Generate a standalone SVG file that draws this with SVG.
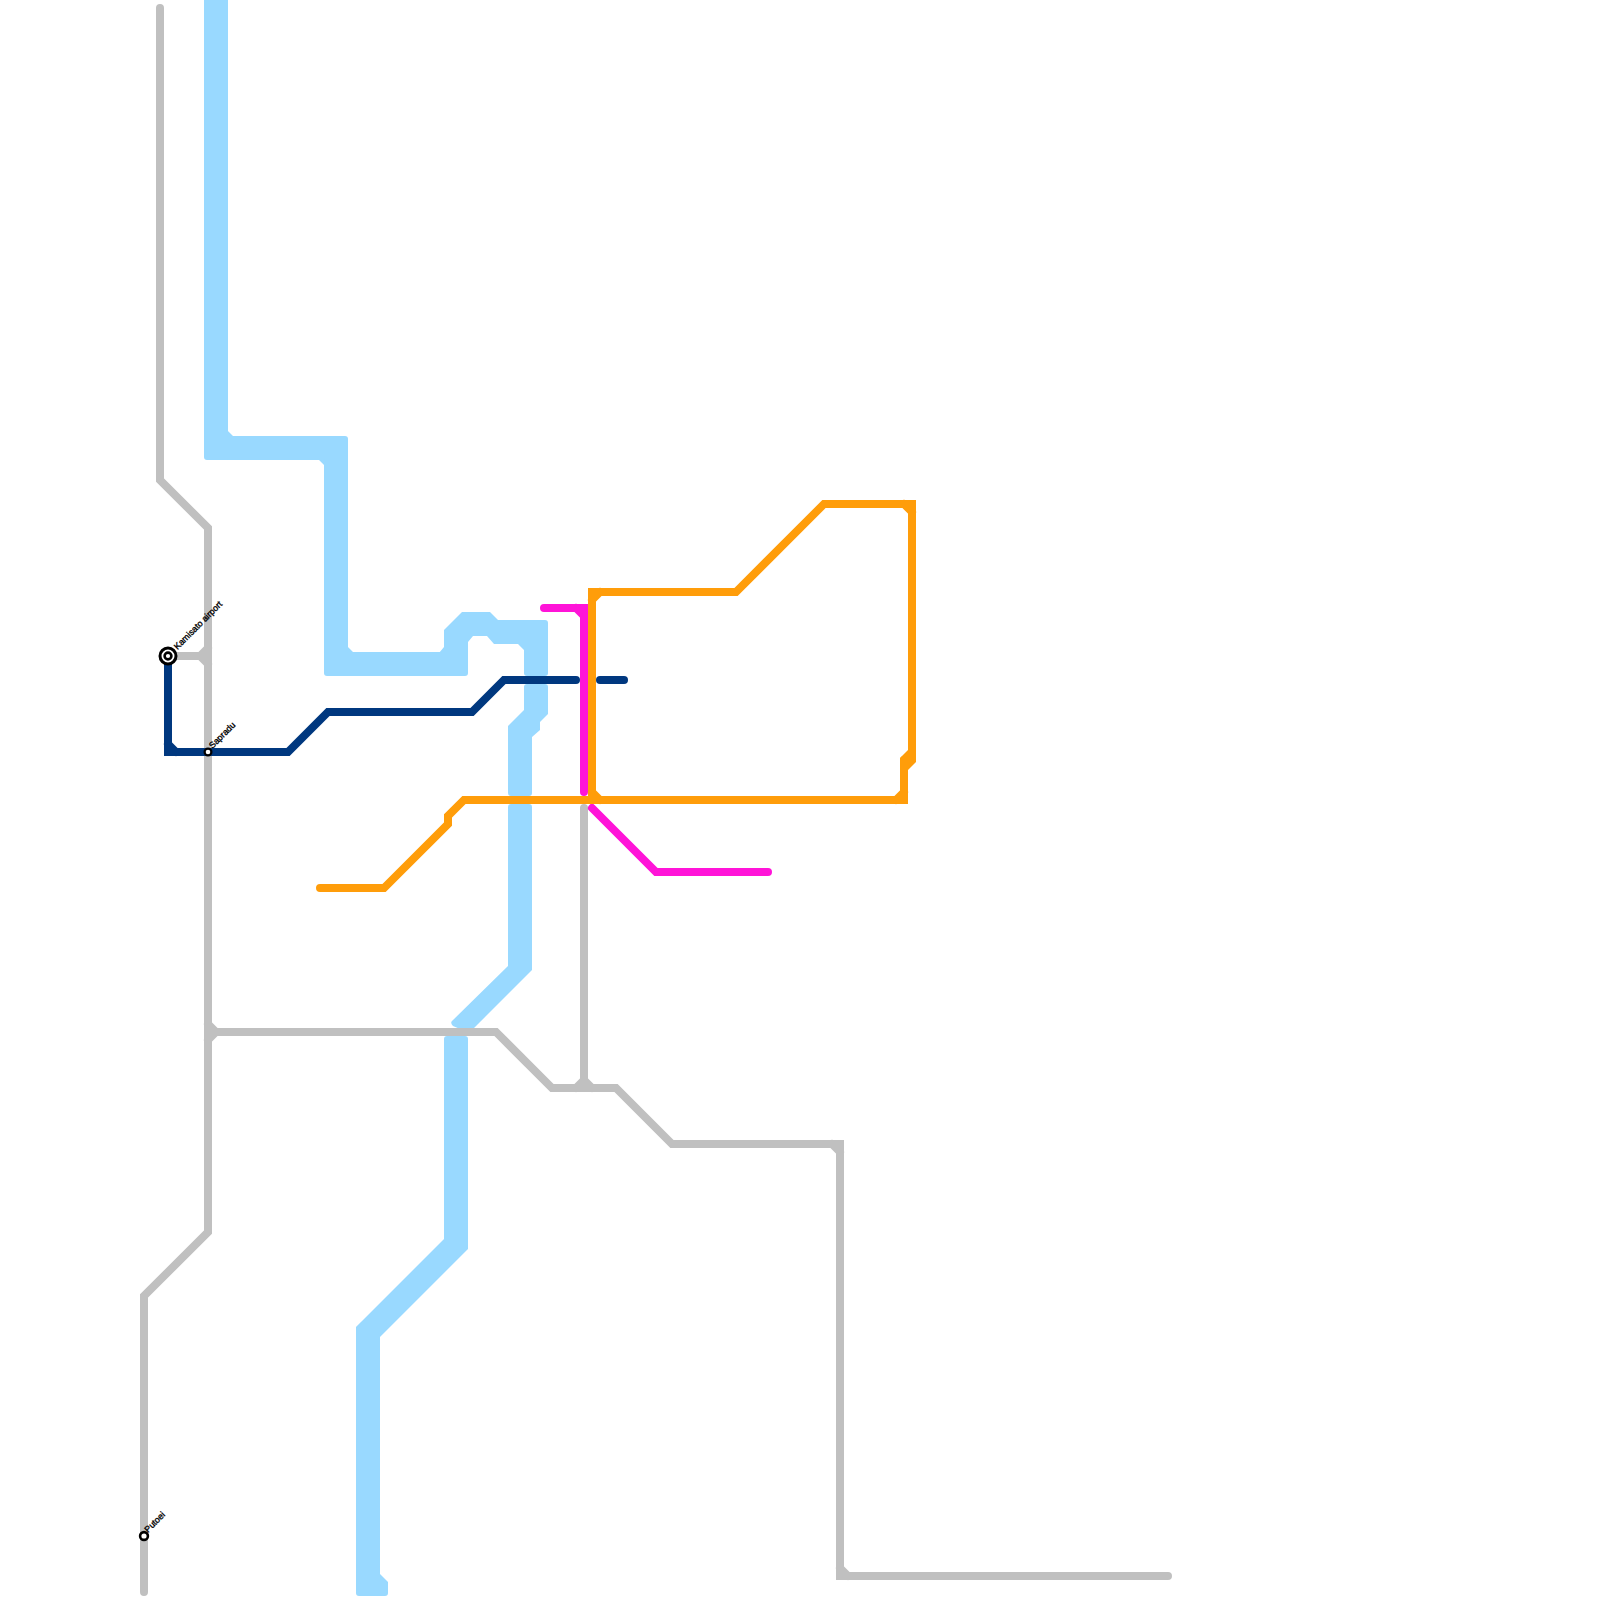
<svg xmlns="http://www.w3.org/2000/svg" width="1600" height="1600" viewBox="0 0 1600 1600">
<style>
.l{fill:none;stroke-linejoin:miter;stroke-miterlimit:4}
.t{stroke-width:8;stroke-linecap:round}
.w{stroke-width:24;stroke-linecap:butt;stroke:#99d9ff}
.bf{fill:#99d9ff;stroke:none}
.grey{stroke:#c0c0c0}
.orange{stroke:#ff9d0a}
.orf{fill:#ff9d0a;stroke:none}
.magenta{stroke:#ff14d8}
.navy{stroke:#00387f}
.st{fill:#fff;stroke:#000}
.lb{font-family:"Liberation Sans",Arial,sans-serif;font-size:8.8px;fill:#000;stroke:#000;stroke-width:.35px}
</style>
<defs><rect id="cap" x="-12" y="-12" width="24" height="24" rx="3" fill="#99d9ff"/></defs>
<rect width="1600" height="1600" fill="#fff"/>
<g id="connectors">
<path class="l w" d="M216 -5V448M216 448H336M336 448V664M336 664H456M216 436L228 448M324 448L336 460M336 652L348 664"/>
<use href="#cap" x="216" y="448"/>
<use href="#cap" x="336" y="448"/>
<use href="#cap" x="336" y="664"/>
<use href="#cap" x="456" y="664"/>
<use href="#cap" x="536" y="664"/>
<path class="bf" d="M439 653L444 647V630L462 612H490L498 620H545Q548 620 548 623V664H524V650L518 644H494L487 636H473L468 642V660H439Z"/>
<path class="bf" d="M527 684H545Q548 684 548 687V714L540 722V730L532 737V793Q532 796 529 796H511Q508 796 508 793V726L524 710V687Q524 684 527 684Z"/>
<path class="bf" d="M511 804H529Q532 804 532 807V970L473 1029H460L453 1026Q450 1023 452 1021L508 966V807Q508 804 511 804Z"/>
<path class="l w" d="M456 1048V1244L368 1332V1584"/>
<use href="#cap" x="456" y="1048"/>
<use href="#cap" x="368" y="1584"/>
<path class="bf" d="M378 1572L388 1582V1593Q388 1596 385 1596H376V1572Z"/>
<path class="l t grey" d="M160 8V480L208 528V1232L144 1296V1592"/>
<path class="l t grey" d="M168 656H208M200 656L208 648M200 656L208 664"/>
<path class="l t grey" d="M208 1032H496L552 1088H616L672 1144H840V1576H1168M208 1024L216 1032M208 1040L216 1032M832 1144L840 1152M840 1568L848 1576"/>
<path class="l t grey" d="M584 808V1088M576 1088L584 1080M592 1088L584 1080"/>
<path class="l t magenta" d="M544 608H584V792M576 608L584 616"/>
<path class="l t magenta" d="M592 808L656 872H768"/>
<path class="l t orange" d="M320 888H384L448 824V816L464 800H904V760M912 752V504H824L736 592H592V800M592 792L600 800M592 600L600 592M896 800L904 792M904 504L912 512"/>
<polygon class="orf" points="900,758 908,750 916,750 916,762 908,770 900,770"/>
<path class="l t navy" d="M168 656V752H288L328 712H472L504 680H576M168 744L176 752"/>
<path class="l t navy" d="M600 680H624"/>
</g>
<g id="station-kamisato">
<circle class="st" cx="168" cy="656" r="8" stroke-width="3"/>
<circle class="st" cx="168" cy="656" r="3.4" stroke-width="2.6"/>
<text class="lb" transform="translate(177.5 650) rotate(-45)">Kamisato airport</text>
</g>
<g id="station-sapradu">
<circle class="st" cx="208" cy="752" r="3.4" stroke-width="2.2"/>
<text class="lb" transform="translate(212.5 749) rotate(-45)">Sapradu</text>
</g>
<g id="station-putoei">
<circle class="st" cx="144" cy="1536" r="3.9" stroke-width="2.6"/>
<text class="lb" transform="translate(148 1533) rotate(-45)">Putoei</text>
</g>
</svg>
